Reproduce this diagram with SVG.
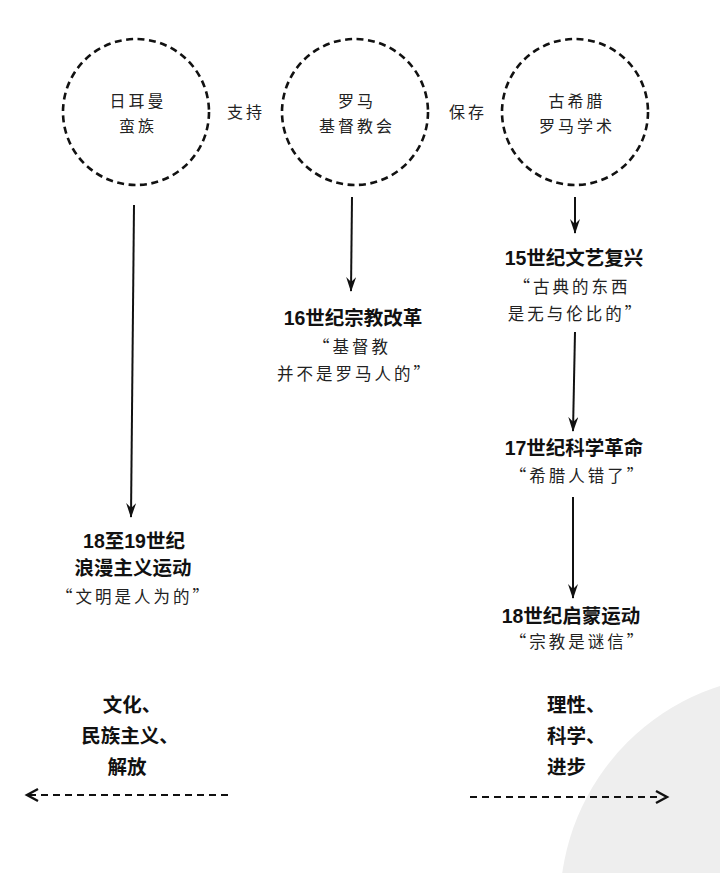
<svg xmlns="http://www.w3.org/2000/svg" width="720" height="873" viewBox="0 0 720 873">
<defs>
<style>
.ring{fill:none;stroke:#111;stroke-width:2.6;stroke-dasharray:7 4.5}
.hand{font-family:"Noto Sans CJK SC","Noto Sans",sans-serif;font-size:16.5px;fill:#222;letter-spacing:3px}
.cap{font-family:"Noto Sans CJK SC","Noto Sans",sans-serif;font-size:16px;fill:#222;letter-spacing:3px}
.head{font-family:"Liberation Sans","Noto Sans CJK SC",sans-serif;font-size:19.5px;font-weight:bold;fill:#111}
.ln{fill:none;stroke:#111;stroke-width:2}
.dl{fill:none;stroke:#111;stroke-width:2;stroke-dasharray:7 5}
</style>
<marker id="ah" viewBox="0 0 15 10" refX="14" refY="5" markerWidth="15" markerHeight="10" markerUnits="userSpaceOnUse" orient="auto">
<path d="M0,0 L15,5 L0,10 L5,5 Z" fill="#111"/>
</marker>
</defs>
<rect width="720" height="873" fill="#fff"/>
<circle cx="790" cy="905" r="230" fill="#eeeeee"/>

<g id="n-german">
<circle class="ring" cx="136" cy="112" r="73"/>
<text class="cap" x="138" y="107" text-anchor="middle">日耳曼</text>
<text class="cap" x="138" y="132" text-anchor="middle">蛮族</text>
</g>
<g id="n-church">
<circle class="ring" cx="355" cy="112" r="73"/>
<text class="cap" x="357" y="107" text-anchor="middle">罗马</text>
<text class="cap" x="357" y="132" text-anchor="middle">基督教会</text>
</g>
<g id="n-greek">
<circle class="ring" cx="575" cy="112" r="73"/>
<text class="cap" x="577" y="107" text-anchor="middle">古希腊</text>
<text class="cap" x="577" y="132" text-anchor="middle">罗马学术</text>
</g>

<g id="n-reform">
<text class="head" x="353" y="325" text-anchor="middle">16世纪宗教改革</text>
<text class="hand" x="352" y="353" text-anchor="middle">“基督教</text>
<text class="hand" x="355" y="380" text-anchor="middle">并不是罗马人的”</text>
</g>
<g id="n-renaissance">
<text class="head" x="574" y="265" text-anchor="middle">15世纪文艺复兴</text>
<text class="hand" x="572" y="293" text-anchor="middle">“古典的东西</text>
<text class="hand" x="576" y="320" text-anchor="middle">是无与伦比的”</text>
</g>
<g id="n-science">
<text class="head" x="574" y="455" text-anchor="middle">17世纪科学革命</text>
<text class="hand" x="578" y="482" text-anchor="middle">“希腊人错了”</text>
</g>
<g id="n-romantic">
<text class="head" x="134" y="548" text-anchor="middle">18至19世纪</text>
<text class="head" x="133" y="575" text-anchor="middle">浪漫主义运动</text>
<text class="hand" x="134" y="603" text-anchor="middle">“文明是人为的”</text>
</g>
<g id="n-enlight">
<text class="head" x="571" y="623" text-anchor="middle">18世纪启蒙运动</text>
<text class="hand" x="578" y="648" text-anchor="middle">“宗教是谜信”</text>
</g>
<g id="n-left">
<text class="head" x="132" y="712" text-anchor="middle">文化、</text>
<text class="head" x="130" y="743" text-anchor="middle">民族主义、</text>
<text class="head" x="127" y="774" text-anchor="middle">解放</text>
</g>
<g id="n-right">
<text class="head" x="547" y="712">理性、</text>
<text class="head" x="547" y="743">科学、</text>
<text class="head" x="547" y="774">进步</text>
</g>

<g id="connectors">
<text class="cap" x="246" y="118" text-anchor="middle">支持</text>
<text class="cap" x="468" y="118" text-anchor="middle">保存</text>
<path class="ln" d="M134,205 L131,517" marker-end="url(#ah)"/>
<path class="ln" d="M352,197 L351,291" marker-end="url(#ah)"/>
<path class="ln" d="M575,197 L575,233" marker-end="url(#ah)"/>
<path class="ln" d="M575,332 L573,431" marker-end="url(#ah)"/>
<path class="ln" d="M573,497 L573,598" marker-end="url(#ah)"/>
<path class="dl" d="M228,795 L29,795"/>
<path d="M38,789 L27,795 L38,801" fill="none" stroke="#111" stroke-width="2.4"/>
<path class="dl" d="M470,797 L660,797"/>
<path d="M656,791 L667,797 L656,803" fill="none" stroke="#111" stroke-width="2.4"/>
</g>
</svg>
